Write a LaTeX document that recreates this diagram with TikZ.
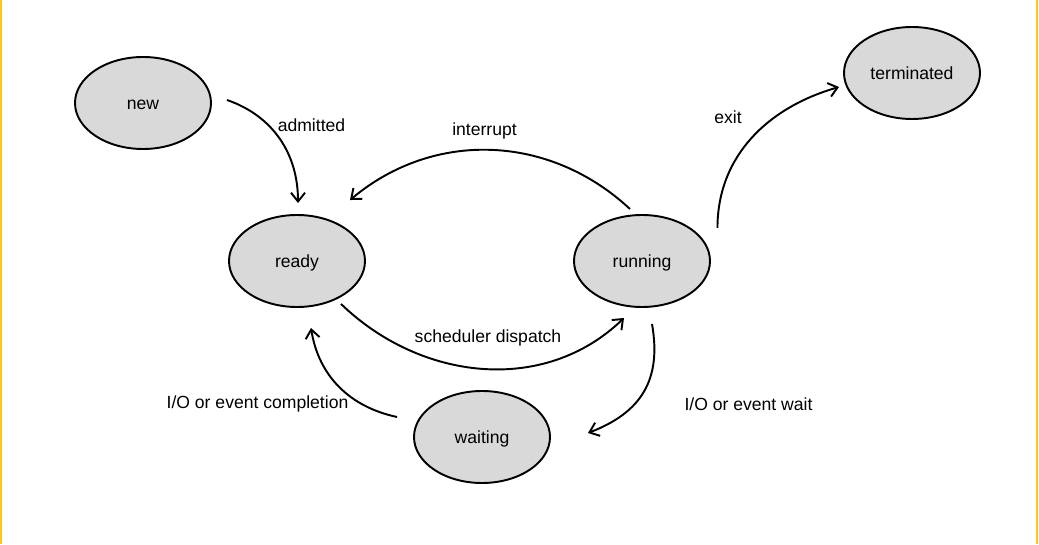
\documentclass[tikz,border=0pt]{standalone}
\usepackage{fontspec}
\setmainfont{Liberation Sans}
\usepackage{tikz}
\usetikzlibrary{shapes.geometric}
\usetikzlibrary{arrows.meta}

\definecolor{stategray}{RGB}{217,217,217}
\definecolor{edgegold}{RGB}{255,200,20}

\tikzset{
	state/.style={ellipse,draw=black,fill=stategray,line width=1.1pt,
		minimum width=2.72cm,minimum height=1.84cm,inner sep=0pt,
		text height=1.5ex,text depth=0pt},
	flow/.style={line width=1.1pt,-{Straight Barb[length=5pt,width=8pt]}},
	flowlbl/.style={inner sep=1pt,text height=1.5ex,text depth=0pt}
}

\begin{document}
\begin{tikzpicture}
	\useasboundingbox (0,0) rectangle (20.78,10.88);
	\draw[edgegold,line width=1.2pt] (0.02,0)--(0.02,10.88);
	\draw[edgegold,line width=1.2pt] (20.74,0)--(20.74,10.88);

	% the five states
	\node[state] (new) at (2.86,8.82) {new};
	\node[state] (ready) at (5.94,5.66) {ready};
	\node[state] (running) at (12.84,5.66) {running};
	\node[state] (terminated) at (18.24,9.42) {terminated};
	\node[state] (waiting) at (9.64,2.14) {waiting};

	% transitions
	\draw[flow] ([xshift=0.30cm,yshift=0.06cm]new.east) to[out=-19,in=90] ([xshift=0.02cm,yshift=0.22cm]ready.north);
	\draw[flow] ([xshift=-0.24cm,yshift=0.10cm]running.north) to[out=137,in=40] ([xshift=1.06cm,yshift=0.28cm]ready.north);
	\draw[flow] ([xshift=0.88cm,yshift=0.08cm]ready.south) to[out=-44,in=-136] ([xshift=-0.36cm,yshift=-0.20cm]running.south);
	\draw[flow] ([xshift=0.20cm,yshift=-0.32cm]running.south) to[out=-80,in=21,looseness=1.15] ([xshift=0.74cm,yshift=0.08cm]waiting.east);
	\draw[flow] ([xshift=-0.32cm,yshift=0.40cm]waiting.west) to[out=168,in=-81] ([xshift=0.28cm,yshift=-0.40cm]ready.south);
	\draw[flow] ([xshift=0.13cm,yshift=0.66cm]running.east) to[out=90,in=196] ([xshift=-0.08cm,yshift=-0.28cm]terminated.west);

	% labels
	\node[flowlbl] (admitted) at (6.23,8.38) {admitted};
	\node[flowlbl] (interrupt) at (9.69,8.30) {interrupt};
	\node[flowlbl] (dispatch) at (9.76,4.16) {scheduler dispatch};
	\node[flowlbl] (iowait) at (14.97,2.80) {I/O or event wait};
	\node[flowlbl] (iodone) at (5.15,2.84) {I/O or event completion};
	\node[flowlbl] (exit) at (14.56,8.54) {exit};
\end{tikzpicture}
\end{document}
